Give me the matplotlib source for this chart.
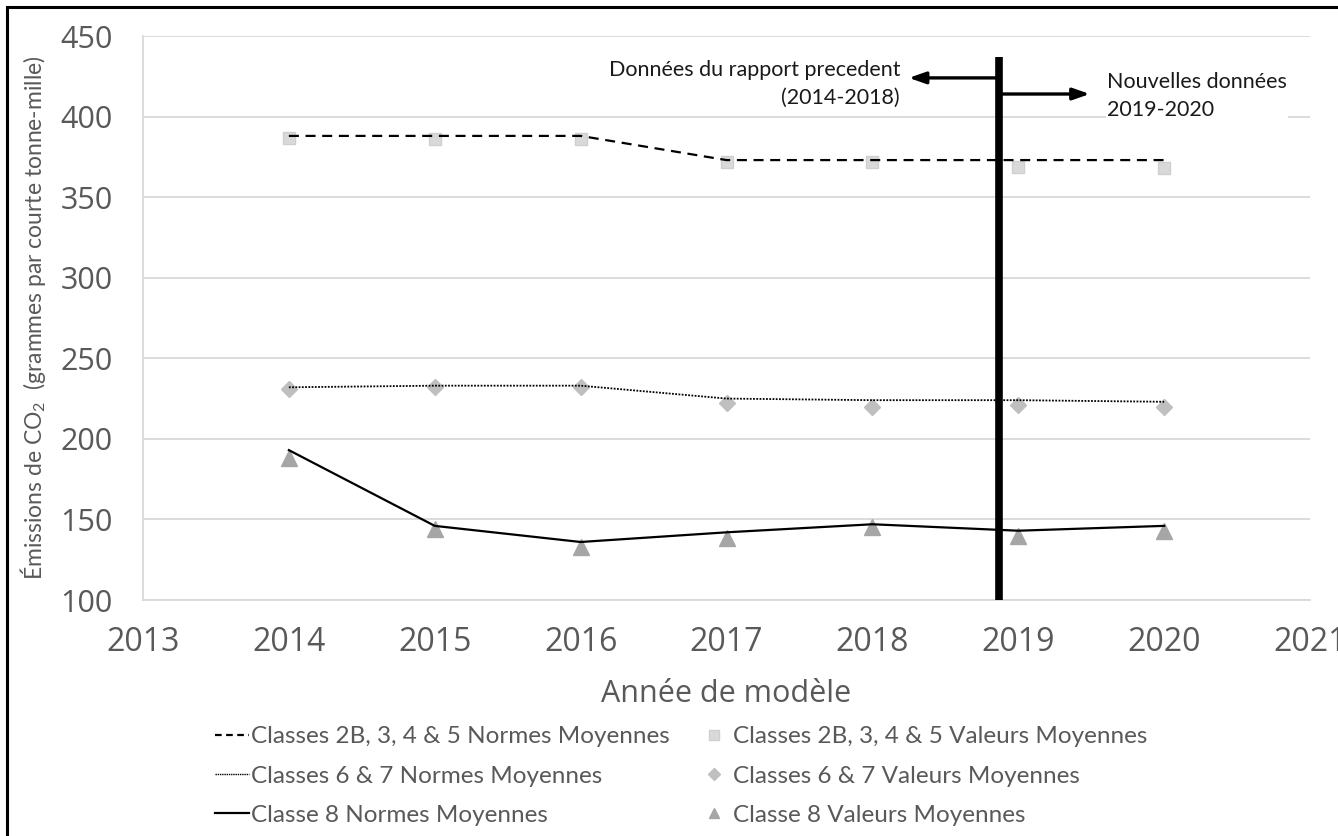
import matplotlib
matplotlib.use("Agg")
import matplotlib.pyplot as plt
from matplotlib.lines import Line2D
from matplotlib.patches import Rectangle

# Model years and emission series (g CO2 per short ton-mile)
years = [2014, 2015, 2016, 2017, 2018, 2019, 2020]
std_2b_5 = [388, 388, 388, 373, 373, 373, 373]
avg_2b_5 = [387, 386, 386, 372, 372, 369, 368]
std_6_7 = [232, 233, 233, 225, 224, 224, 223]
avg_6_7 = [231, 232, 232, 222, 220, 221, 220]
std_8 = [193, 146, 136, 142, 147, 143, 146]
avg_8 = [188, 144, 133, 138.5, 145, 140, 143]

labels_std = ["Classes 2B, 3, 4 & 5 Normes Moyennes",
              "Classes 6 & 7 Normes Moyennes",
              "Classe 8 Normes Moyennes"]
labels_avg = ["Classes 2B, 3, 4 & 5 Valeurs Moyennes",
              "Classes 6 & 7 Valeurs Moyennes",
              "Classe 8 Valeurs Moyennes"]

# Split between previous report and new data
split_year = 2018.87
split_top = 437
left_arrow = (424, 2018.25)
right_arrow = (414, 2019.49)

narrow = ["Lato", "DejaVu Sans"]
wide = ["Open Sans", "DejaVu Sans"]
plt.rcParams["mathtext.fontset"] = "custom"
plt.rcParams["mathtext.rm"] = "Lato"
plt.rcParams["mathtext.it"] = "Lato"

W, H = 1338, 836
fig = plt.figure(figsize=(W / 100, H / 100), dpi=100)
ax = fig.add_axes([143 / W, 1 - 600 / H, (1310 - 143) / W, (600 - 36) / H])

grid_c = "#d9d9d9"
text_c = "#595959"

# Average values (markers)
ax.plot(years, avg_2b_5, ls="none", marker="s", ms=9, color="#d9d9d9",
        mec="#cfcfcf", zorder=3)
ax.plot(years, avg_6_7, ls="none", marker="D", ms=8, color="#bfbfbf",
        mec="#bfbfbf", zorder=3)
ax.plot(years, avg_8, ls="none", marker="^", ms=11, color="#a6a6a6",
        mec="#a6a6a6", zorder=3)

# Standards (lines)
ax.plot(years, std_2b_5, color="black", lw=1.6, dashes=(4.5, 3), zorder=4)
ax.plot(years, std_6_7, color="black", lw=1.3, dashes=(1, 0.8), zorder=4)
ax.plot(years, std_8, color="black", lw=1.6, zorder=4)

# Split line and arrows
ax.plot([split_year, split_year], [100, split_top], color="black", lw=5.5,
        solid_capstyle="butt", zorder=6, clip_on=False)
arrow_style = dict(arrowstyle="-|>,head_length=1.0,head_width=0.35",
                   color="black", lw=2.4, shrinkA=0, shrinkB=0)
ax.annotate("", xy=(left_arrow[1], left_arrow[0]),
            xytext=(split_year, left_arrow[0]),
            arrowprops=arrow_style, zorder=6)
ax.annotate("", xy=(right_arrow[1], right_arrow[0]),
            xytext=(split_year, right_arrow[0]),
            arrowprops=arrow_style, zorder=6)

ax.text(2018.19, 420, "Données du rapport precedent\n(2014-2018)",
        ha="right", va="center", fontsize=15.5, family=narrow,
        color="#1a1a1a", linespacing=1.5, multialignment="right", zorder=7)
ax.text(2019.61, 413, "Nouvelles données\n2019-2020",
        ha="left", va="center", fontsize=15.5, family=narrow,
        color="#1a1a1a", linespacing=1.5, multialignment="left", zorder=7,
        bbox=dict(facecolor="white", edgecolor="none", pad=1))

# Axes styling
ax.set_xlim(2013, 2021)
ax.set_ylim(100, 450)
ax.set_xticks(range(2013, 2022))
ax.set_yticks(range(100, 451, 50))
ax.yaxis.grid(True, color=grid_c, lw=1.3)
ax.set_axisbelow(True)
for side in ("top", "right"):
    ax.spines[side].set_visible(False)
for side in ("left", "bottom"):
    ax.spines[side].set_color(grid_c)
    ax.spines[side].set_linewidth(1.3)
ax.tick_params(length=0, labelcolor=text_c)
ax.tick_params(axis="x", pad=19, labelsize=23)
ax.tick_params(axis="y", pad=22, labelsize=22)
for lab in ax.get_xticklabels() + ax.get_yticklabels():
    lab.set_family(wide)

ax.set_xlabel("Année de modèle", fontsize=22, family=wide, color=text_c,
              labelpad=14)
fig.text(33 / W, 1 - 318 / H,
         "Émissions de CO$_2$  (grammes par courte tonne-mille)",
         rotation=90, ha="center", va="center", fontsize=16.5, family=narrow,
         color=text_c)

# Legend
handles = [
    Line2D([], [], color="black", lw=1.6, dashes=(3, 2)),
    Line2D([], [], color="black", lw=1.0, dashes=(1, 0.6)),
    Line2D([], [], color="black", lw=1.6),
    Line2D([], [], ls="none", marker="s", ms=7, color="#d9d9d9", mec="#cfcfcf"),
    Line2D([], [], ls="none", marker="D", ms=6, color="#bfbfbf"),
    Line2D([], [], ls="none", marker="^", ms=7, color="#a6a6a6"),
]
leg = fig.legend(handles, labels_std + labels_avg, ncol=2,
                 loc="center left", bbox_to_anchor=(215 / W, 1 - 776 / H),
                 frameon=False, borderpad=0, borderaxespad=0,
                 handlelength=1.4, handletextpad=0.1, columnspacing=1.1,
                 labelspacing=0.75,
                 prop={"family": narrow, "size": 17.5})
for t in leg.get_texts():
    t.set_color(text_c)

# Outer frame
fig.patches.append(Rectangle((7 / W, -0.05), 1.2, 1 - 7 / H + 0.05,
                             transform=fig.transFigure, fill=False,
                             edgecolor="black", lw=2.2, zorder=10))

fig.savefig("out.png", dpi=100)
